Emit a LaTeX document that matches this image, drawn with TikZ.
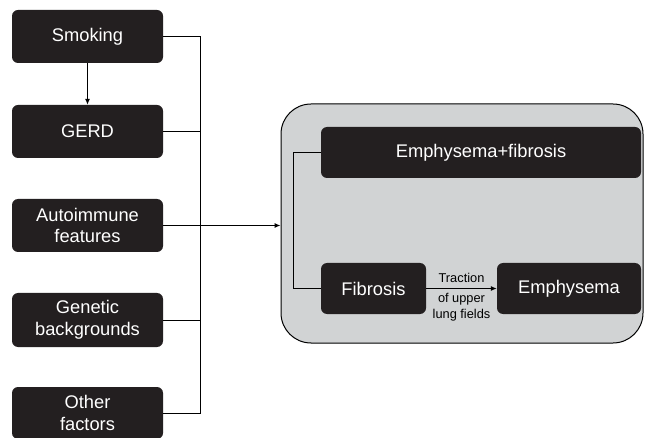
\documentclass[tikz,border=0pt]{standalone}
\usepackage{fontspec}
\setmainfont{Liberation Sans}
\usetikzlibrary{arrows.meta,calc}
\definecolor{boxdark}{HTML}{231F20}
\definecolor{panelgray}{HTML}{D1D3D4}
\begin{document}
\begin{tikzpicture}[x=1pt,y=-1pt,
  darkbox/.style={draw=none,fill=boxdark,text=white,rounded corners=6pt,
    align=center,inner sep=0pt,font=\fontsize{18.3}{21.5}\selectfont},
  conn/.style={draw=black,line width=1pt},
  arr/.style={conn,-{Latex[length=6pt,width=5pt]}},
  small/.style={font=\fontsize{12.8}{15.5}\selectfont,inner sep=0pt,align=center}]
\useasboundingbox (0,0) rectangle (645,438);
% left column
\node[darkbox,minimum width=151pt,minimum height=53pt] (smoking) at (87.5,36.5) {Smoking};
\node[darkbox,minimum width=151pt,minimum height=53pt] (gerd) at (87.5,131.5) {GERD};
\node[darkbox,minimum width=151pt,minimum height=53pt] (auto) at (87.5,225.5) {Autoimmune\\features};
\node[darkbox,minimum width=151pt,minimum height=54pt] (gen) at (87.5,320) {Genetic\\backgrounds};
\node[darkbox,minimum width=151pt,minimum height=52pt] (other) at (87.5,413) {Other\\factors};
% right panel
\node[draw=black,line width=1pt,fill=panelgray,rounded corners=30pt,
  minimum width=362pt,minimum height=239pt,inner sep=0pt] (panel) at (462,223.5) {};
\node[darkbox,minimum width=320pt,minimum height=51pt] (ef) at (481,152.5) {Emphysema+fibrosis};
\node[darkbox,minimum width=105pt,minimum height=51pt] (fib) at (373.5,288.5) {Fibrosis};
\node[darkbox,minimum width=144pt,minimum height=51pt] (emph) at (569,288.5) {Emphysema};
% connectors left
\coordinate (bus) at (200,0);
\draw[arr] (smoking.south) -- (gerd.north);
\draw[conn] (smoking.east) -- (smoking.east -| bus) -- (other.east -| bus) -- (other.east);
\draw[conn] (gerd.east) -- (gerd.east -| bus);
\draw[conn] (gen.east) -- (gen.east -| bus);
\draw[arr] (auto.east) -- (auto.east -| panel.west);
% connectors right
\coordinate (rbus) at (293,0);
\draw[conn] (ef.west) -- (ef.west -| rbus) -- (fib.west -| rbus) -- (fib.west);
\draw[arr] (fib.east) -- (emph.west);
\node[small] (trac) at (461.5,278) {Traction};
\node[small] (upper) at (461.5,307) {of upper\\lung fields};
\end{tikzpicture}
\end{document}
